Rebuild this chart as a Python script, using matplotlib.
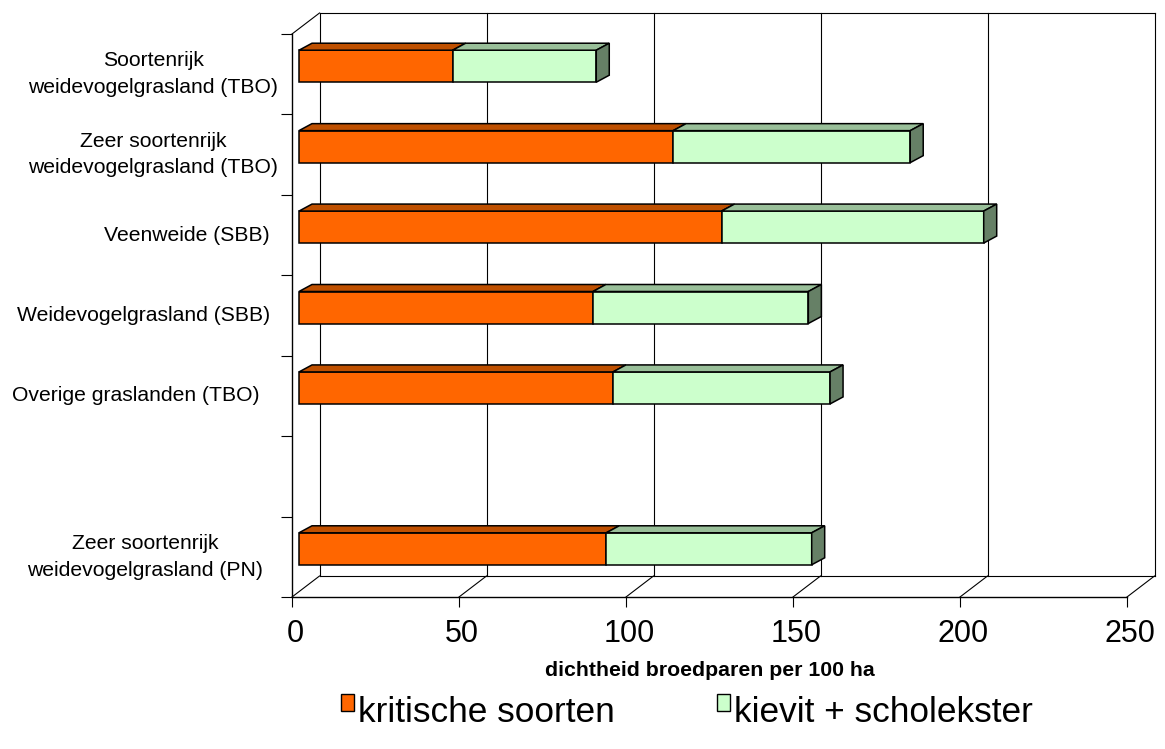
"""Dichtheid weidevogels per graslandtype (nagebouwde Excel 3D-staafgrafiek)."""

import matplotlib
matplotlib.use("Agg")
import matplotlib.pyplot as plt
import matplotlib.transforms as mtransforms
from matplotlib.patches import Polygon, Patch, Rectangle
from matplotlib.legend_handler import HandlerPatch

matplotlib.rcParams["font.family"] = ["Liberation Sans", "DejaVu Sans"]

categories = [
    "Soortenrijk\nweidevogelgrasland (TBO)",
    "Zeer soortenrijk\nweidevogelgrasland (TBO)",
    "Veenweide (SBB)",
    "Weidevogelgrasland (SBB)",
    "Overige graslanden (TBO)",
    "",
    "Zeer soortenrijk\nweidevogelgrasland (PN)",
]
kritische_soorten = [46, 112, 126.5, 88, 94, None, 92]
kievit_scholekster = [43, 71, 78.5, 64.5, 65, None, 61.5]
series_names = ["kritische soorten", "kievit + scholekster"]
xticks = [0, 50, 100, 150, 200, 250]
xlabel = "dichtheid broedparen per 100 ha"

# afstand (px) tussen rechterkant label en de as
label_gap = [14, 14, 22, 22, 33, 0, 29]

front_colors = ["#FF6600", "#CCFFCC"]
top_colors = ["#BF5000", "#99BF99"]
side_colors = ["#993D00", "#668066"]


def raised_box(legend, orig_handle, xdescent, ydescent, width, height, fontsize):
    # legendablokje iets hoger, zoals in Excel
    return Rectangle((-xdescent, -ydescent + 0.2 * fontsize), width, height)


def main():
    W, H = 1165, 749
    fig = plt.figure(figsize=(W / 100, H / 100), dpi=100)
    ax = fig.add_axes([292 / W, 1 - 597 / H, 835 / W, 563 / H])
    ax.set_xlim(0, 250)
    ax.set_ylim(len(categories) - 0.5, -0.5)
    ax.patch.set_visible(False)
    for s in ax.spines.values():
        s.set_visible(False)

    # pixels -> data-eenheden
    sx = ax.bbox.width / 250
    sy = ax.bbox.height / len(categories)
    ybot, ytop = len(categories) - 0.5, -0.5

    # achterwand / vloer offset
    BX, BY = 27.5 / sx, 21 / sy
    lk = dict(color="black", lw=0.8, clip_on=False, zorder=1)
    for xt in xticks:
        ax.plot([xt + BX, xt + BX], [ybot - BY, ytop - BY], **lk)
        ax.plot([xt, xt + BX], [ybot, ybot - BY], **lk)
    ax.plot([BX, 250 + BX], [ytop - BY, ytop - BY], **lk)
    ax.plot([BX, 250 + BX], [ybot - BY, ybot - BY], **lk)
    ax.plot([0, BX], [ytop, ytop - BY], **lk)
    ax.plot([0, 250], [ybot, ybot], color="black", lw=1.0, clip_on=False, zorder=1)
    ax.plot([0, 0], [ytop, ybot], color="black", lw=1.0, clip_on=False, zorder=1)

    # balken
    FX, FY = 7 / sx, 8 / sy
    DX, DY = 13 / sx, 7 / sy
    h = 32 / sy
    for i in range(len(categories)):
        vals = [kritische_soorten[i], kievit_scholekster[i]]
        if vals[0] is None:
            continue
        yc = i - FY
        top = yc - h / 2
        bot = yc + h / 2
        left = FX
        for k, v in enumerate(vals):
            ax.barh(yc, v, left=left, height=h, color=front_colors[k],
                    edgecolor="black", lw=1.1, zorder=3)
            ax.add_patch(Polygon(
                [(left, top), (left + v, top), (left + v + DX, top - DY), (left + DX, top - DY)],
                closed=True, facecolor=top_colors[k], edgecolor="black", lw=1.1,
                zorder=3, clip_on=False))
            left += v
        ax.add_patch(Polygon(
            [(left, top), (left, bot), (left + DX, bot - DY), (left + DX, top - DY)],
            closed=True, facecolor=side_colors[1], edgecolor="black", lw=1.1,
            zorder=3, clip_on=False))

    # assen
    ax.set_xticks(xticks)
    ax.set_xticklabels([str(x) for x in xticks])
    ax.tick_params(axis="x", length=7.2, width=0.8, pad=9, labelsize=22)
    shift = mtransforms.ScaledTranslation(3 / 100, 0, fig.dpi_scale_trans)
    for lab in ax.get_xticklabels():
        lab.set_transform(lab.get_transform() + shift)
    ax.set_yticks([b - 0.5 for b in range(len(categories) + 1)])
    ax.tick_params(axis="y", length=7.9, width=0.8, labelleft=False)

    for i, lab in enumerate(categories):
        if not lab:
            continue
        ax.annotate(lab, xy=(0, i), xycoords=("axes fraction", "data"),
                    xytext=(-label_gap[i] * 0.72, 0), textcoords="offset points",
                    ha="right", va="center", multialignment="center",
                    fontsize=15.2, linespacing=1.5)

    fig.text(710 / W, 1 - 670 / H, xlabel, ha="center", va="center",
             fontsize=15.3, fontweight="bold")

    handles = [Patch(facecolor=c, edgecolor="black", lw=1.0) for c in front_colors]
    fig.legend(handles, series_names, loc="center", bbox_to_anchor=(687 / W, 1 - 713 / H),
               ncol=2, frameon=False, fontsize=25.4, handlelength=0.36, handleheight=0.36,
               handletextpad=0.12, columnspacing=2.9, borderaxespad=0, borderpad=0,
               handler_map={Patch: HandlerPatch(patch_func=raised_box)})

    fig.savefig("out.png", dpi=100)
    plt.close(fig)


if __name__ == "__main__":
    main()
